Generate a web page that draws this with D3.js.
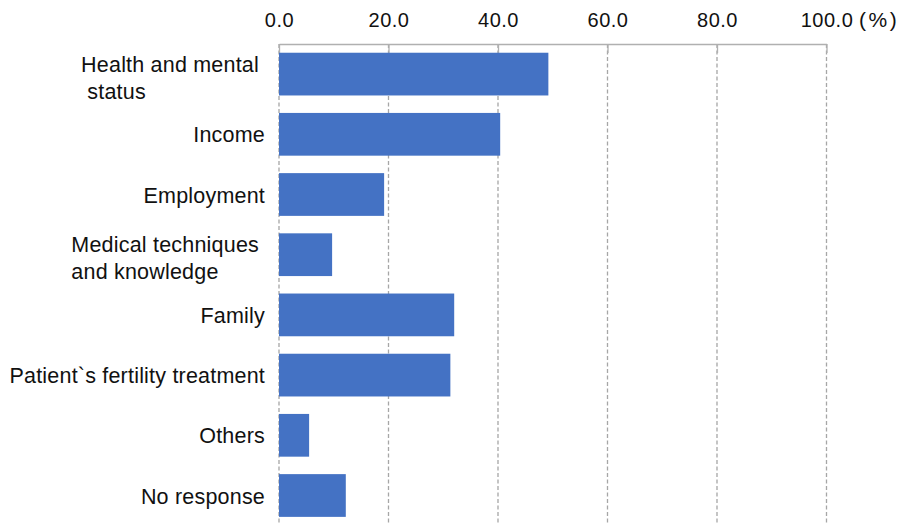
<!DOCTYPE html>
<html>
<head>
<meta charset="utf-8">
<script src="https://cdn.jsdelivr.net/npm/d3@7"></script>
<style>
  html, body { margin: 0; padding: 0; background: #fff; }
  svg { display: block; font-family: "Liberation Sans", Arial, sans-serif; }
</style>
</head>
<body>
<svg id="chart" width="911" height="524"></svg>
<script>
// Reasons reported (multiple answers), percent of respondents
const categories = [
  "Health and mental|status",
  "Income",
  "Employment",
  "Medical techniques|and knowledge",
  "Family",
  "Patient`s fertility treatment",
  "Others",
  "No response"
];
const values = [49.2, 40.4, 19.2, 9.7, 32.0, 31.3, 5.5, 12.2];
const tickValues = [0, 20, 40, 60, 80, 100];
const unitLabel = "(%)";

const svg = d3.select("#chart");
const plotLeft = 279, plotRight = 826.5, plotTop = 44, plotBottom = 525.6;

const x = d3.scaleLinear().domain([0, 100]).range([plotLeft, plotRight]);
const y = d3.scaleBand().domain(categories).range([plotTop, plotBottom])
  .paddingInner(0.29).paddingOuter(0.145);

// dashed vertical gridlines
svg.append("g").selectAll("line").data(tickValues).join("line")
  .attr("x1", d => x(d)).attr("x2", d => x(d))
  .attr("y1", plotTop).attr("y2", 524)
  .attr("stroke", "#a6a6a6").attr("stroke-width", 1.3)
  .attr("stroke-dasharray", "4,2.5");

// top axis
const axis = d3.axisTop(x).tickValues(tickValues).tickSize(0).tickPadding(17)
  .tickFormat(d3.format(".1f"));
const gAxis = svg.append("g").attr("transform", `translate(0,${plotTop})`).call(axis);
gAxis.select(".domain").attr("stroke", "#b0b0b0").attr("stroke-width", 1.3);
gAxis.selectAll(".tick text").attr("font-size", 20).attr("fill", "#111")
  .attr("letter-spacing", 0.5)
  .attr("font-family", "'Liberation Sans', Arial, sans-serif");
// short solid tick marks hanging below the axis line
gAxis.selectAll(".tick").append("line")
  .attr("y1", 0).attr("y2", 9).attr("stroke", "#b0b0b0").attr("stroke-width", 1.3);

svg.append("text").attr("x", 859).attr("y", 27)
  .attr("font-size", 21).attr("fill", "#111")
  .attr("letter-spacing", 2.5)
  .text(unitLabel);

// bars
svg.append("g").selectAll("rect").data(values).join("rect")
  .attr("x", x(0))
  .attr("y", (d, i) => y(categories[i]))
  .attr("width", d => x(d) - x(0))
  .attr("height", y.bandwidth())
  .attr("fill", "#4472C4");

// category labels (multi-line labels are left aligned within their block)
const labelRight = 265;
const blockRight = 259;
const lineH = 27;
categories.forEach((c, i) => {
  const lines = c.split("|");
  const cy = y(c) + y.bandwidth() / 2 + 8;
  const t = svg.append("text").attr("font-size", 21.5).attr("fill", "#111")
    .attr("letter-spacing", 0.2);
  const spans = lines.map((ln, k) => t.append("tspan")
    .attr("y", cy + (k - (lines.length - 1) / 2) * lineH + (lines.length > 1 ? 3 : 0))
    .text((k > 0 && i === 0 ? "\u00a0" : "") + ln));
  if (lines.length === 1) {
    t.attr("text-anchor", "end");
    spans[0].attr("x", labelRight);
  } else {
    const w = d3.max(spans, s => s.node().getComputedTextLength());
    spans.forEach(s => s.attr("x", blockRight - w));
  }
});
</script>
</body>
</html>
